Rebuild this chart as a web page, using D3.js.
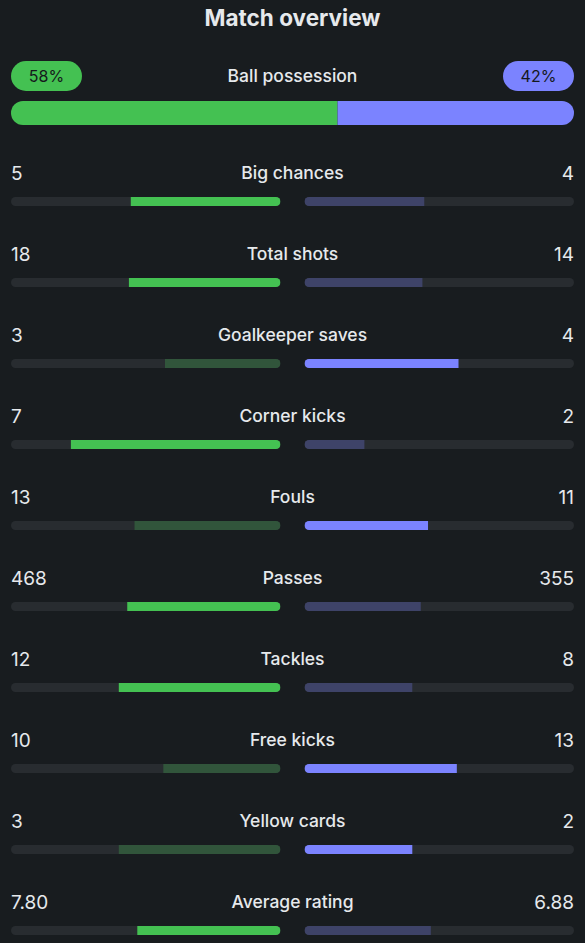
<!DOCTYPE html>
<html>
<head>
<meta charset="utf-8">
<script src="https://cdn.jsdelivr.net/npm/d3@7"></script>
<style>
  html, body { margin: 0; padding: 0; background: #181c1f; }
  svg { display: block; font-family: Inter, Roboto, "Noto Sans", sans-serif; }
</style>
</head>
<body>
<svg id="chart" width="585" height="943"></svg>
<script>
// possession
const possession = [58, 42];

// stat rows
const statLabels = ["Big chances", "Total shots", "Goalkeeper saves", "Corner kicks", "Fouls",
  "Passes", "Tackles", "Free kicks", "Yellow cards", "Average rating"];
const homeValues = [5, 18, 3, 7, 13, 468, 12, 10, 3, 7.80];
const awayValues = [4, 14, 4, 2, 11, 355, 8, 13, 2, 6.88];
const homeText = ["5", "18", "3", "7", "13", "468", "12", "10", "3", "7.80"];
const awayText = ["4", "14", "4", "2", "11", "355", "8", "13", "2", "6.88"];
// which side is highlighted ("home" / "away")
const leader = ["home", "home", "away", "home", "away", "home", "home", "away", "away", "home"];

const W = 585, padX = 11, gap = 24;
const half = (W - 2 * padX - gap) / 2; // 270
const C = {
  bg: "#181c1f", track: "#282c30", text: "#e6e9ec",
  home: "#44c152", homeDim: "#31553b", away: "#7b83ff", awayDim: "#3e4368", pillText: "#15191c"
};

const svg = d3.select("#chart");
svg.append("rect").attr("width", W).attr("height", 943).attr("fill", C.bg);
const defs = svg.append("defs");

svg.append("text").attr("x", W / 2).attr("y", 26).attr("text-anchor", "middle")
  .attr("fill", C.text).attr("font-size", 22.5).attr("font-weight", 700).text("Match overview");

// ---- ball possession
const pillW = 71, pillH = 30, pillY = 61;
[["home", padX], ["away", W - padX - pillW]].forEach(([side, x], i) => {
  svg.append("rect").attr("x", x).attr("y", pillY).attr("width", pillW).attr("height", pillH)
    .attr("rx", pillH / 2).attr("fill", C[side]);
  svg.append("text").attr("x", x + pillW / 2).attr("y", pillY + pillH / 2)
    .attr("dy", "0.36em").attr("text-anchor", "middle").attr("font-size", 16)
    .attr("fill", C.pillText).text(possession[i] + "%");
});
svg.append("text").attr("x", W / 2).attr("y", pillY + pillH / 2).attr("dy", "0.36em")
  .attr("text-anchor", "middle").attr("font-size", 17.5).attr("font-weight", 500)
  .attr("fill", C.text).text("Ball possession");

const px = d3.scaleLinear().domain([0, d3.sum(possession)]).range([padX, W - padX]);
const pY = 101, pH = 24;
defs.append("clipPath").attr("id", "clip-pos").append("rect")
  .attr("x", padX).attr("y", pY).attr("width", W - 2 * padX).attr("height", pH).attr("rx", pH / 2);
const pg = svg.append("g").attr("clip-path", "url(#clip-pos)");
pg.append("rect").attr("x", px(0)).attr("y", pY).attr("width", px(possession[0]) - px(0))
  .attr("height", pH).attr("fill", C.home);
pg.append("rect").attr("x", px(possession[0])).attr("y", pY)
  .attr("width", px(d3.sum(possession)) - px(possession[0])).attr("height", pH).attr("fill", C.away);

// ---- stat rows
const y = d3.scaleLinear().domain([0, statLabels.length - 1]).range([173, 902]);
const barH = 9, barOff = 28.5;

statLabels.forEach((label, i) => {
  const g = svg.append("g").attr("transform", `translate(0,${y(i)})`);
  g.append("text").attr("x", W / 2).attr("dy", "0.36em").attr("text-anchor", "middle")
    .attr("font-size", 17.5).attr("font-weight", 500).attr("fill", C.text).text(label);
  g.append("text").attr("x", padX).attr("dy", "0.36em").attr("font-size", 19)
    .attr("fill", C.text).text(homeText[i]);
  g.append("text").attr("x", W - padX).attr("dy", "0.36em").attr("text-anchor", "end")
    .attr("font-size", 19).attr("fill", C.text).text(awayText[i]);

  const total = homeValues[i] + awayValues[i];
  const sx = d3.scaleLinear().domain([0, total]).range([0, half]);
  const by = barOff - barH / 2;
  const sides = [
    { key: "home", x0: padX, w: sx(homeValues[i]), anchorRight: true },
    { key: "away", x0: W - padX - half, w: sx(awayValues[i]), anchorRight: false }
  ];
  sides.forEach(s => {
    const id = `clip-${i}-${s.key}`;
    defs.append("clipPath").attr("id", id).append("rect")
      .attr("x", s.x0).attr("y", y(i) + by).attr("width", half).attr("height", barH).attr("rx", barH / 2);
    const sg = g.append("g").attr("clip-path", `url(#${id})`)
      .attr("transform", `translate(0,${-y(i)})`);
    sg.append("rect").attr("x", s.x0).attr("y", y(i) + by).attr("width", half).attr("height", barH)
      .attr("fill", C.track);
    const lead = leader[i] === s.key;
    sg.append("rect")
      .attr("x", s.anchorRight ? s.x0 + half - s.w : s.x0)
      .attr("y", y(i) + by).attr("width", s.w).attr("height", barH)
      .attr("fill", lead ? C[s.key] : C[s.key + "Dim"]);
  });
});
</script>
</body>
</html>
